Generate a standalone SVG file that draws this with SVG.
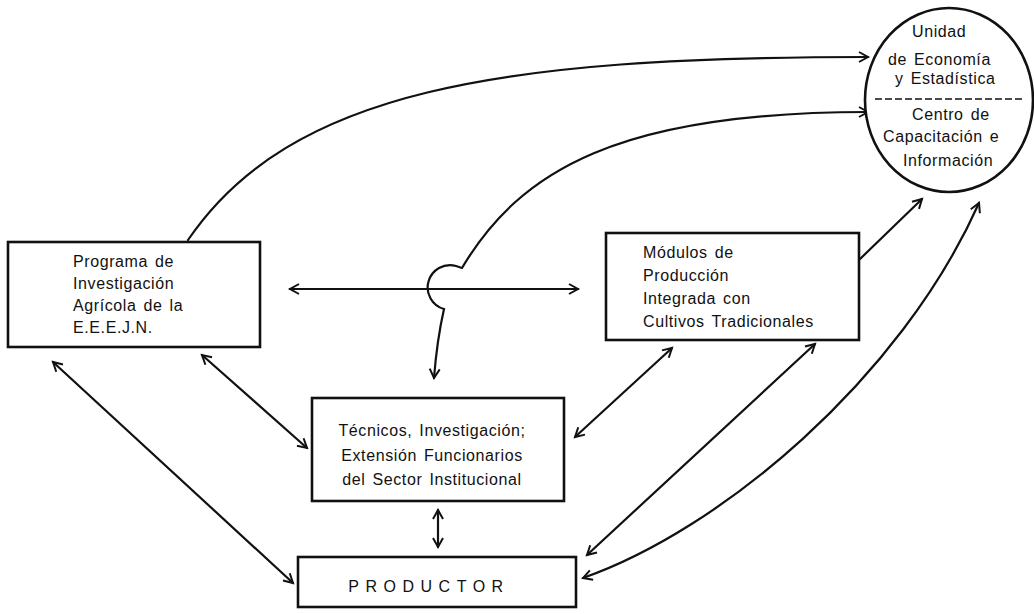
<svg xmlns="http://www.w3.org/2000/svg" width="1034" height="614" viewBox="0 0 1034 614">
  <style>
    .box { fill: #ffffff; stroke: #111; stroke-width: 2.6; }
    .lbl { font-family: "Liberation Sans", Arial, sans-serif; font-size: 16px; fill: #111; letter-spacing: 0.6px; word-spacing: 2px; }
    .conn { fill: none; stroke: #111; stroke-width: 2.2; stroke-linecap: round; }
  </style>
  <defs>
    <marker id="head" markerWidth="13" markerHeight="13" refX="10" refY="5.5" orient="auto-start-reverse" markerUnits="userSpaceOnUse" viewBox="0 0 13 11">
      <path d="M1,0.5 L10,5.5 L1,10.5" fill="none" stroke="#111" stroke-width="2"/>
    </marker>
  </defs>
  <rect width="1034" height="614" fill="#ffffff"/>

  <g id="connectors">
    <!-- Programa to Unidad de Economía -->
    <path class="conn" d="M188,240 C290,90 500,57 868,57" marker-end="url(#head)"/>
    <!-- Centro de Capacitación down to Técnicos, hopping over the horizontal link -->
    <path class="conn" d="M868,112 C620,112 520,170 462,268 L456,266 A21,21 0 0 0 444,309 Q437,340 434,378" marker-start="url(#head)" marker-end="url(#head)"/>
    <!-- Programa <-> Módulos -->
    <path class="conn" d="M290,289 L578,289" marker-start="url(#head)" marker-end="url(#head)"/>
    <!-- Módulos to circle -->
    <path class="conn" d="M860,259 L922,199" marker-end="url(#head)"/>
    <!-- Productor <-> circle -->
    <path class="conn" d="M583,578 C720,530 900,380 979,203" marker-start="url(#head)" marker-end="url(#head)"/>
    <!-- Módulos <-> Técnicos -->
    <path class="conn" d="M672,348 L575,437" marker-start="url(#head)" marker-end="url(#head)"/>
    <!-- Módulos <-> Productor -->
    <path class="conn" d="M815,344 L587,555" marker-start="url(#head)" marker-end="url(#head)"/>
    <!-- Programa <-> Técnicos -->
    <path class="conn" d="M202,355 L307,448" marker-start="url(#head)" marker-end="url(#head)"/>
    <!-- Programa <-> Productor -->
    <path class="conn" d="M53,362 L293,583" marker-start="url(#head)" marker-end="url(#head)"/>
    <!-- Técnicos <-> Productor -->
    <path class="conn" d="M438,510 L438,547" marker-start="url(#head)" marker-end="url(#head)"/>
  </g>

  <g id="unidad">
    <ellipse cx="949" cy="100" rx="84" ry="92" fill="#ffffff" stroke="#111" stroke-width="2.6"/>
    <line x1="875" y1="99" x2="1024" y2="99" stroke="#111" stroke-width="1.6" stroke-dasharray="7,3"/>
    <text class="lbl" x="912" y="37">Unidad</text>
    <text class="lbl" x="888" y="65">de Economía</text>
    <text class="lbl" x="895" y="84">y Estadística</text>
    <text class="lbl" x="912" y="120">Centro de</text>
    <text class="lbl" x="883" y="142">Capacitación e</text>
    <text class="lbl" x="903" y="166">Información</text>
  </g>

  <g id="programa">
    <rect class="box" x="8" y="242" width="252" height="105"/>
    <text class="lbl" x="73" y="267">Programa de</text>
    <text class="lbl" x="73" y="289">Investigación</text>
    <text class="lbl" x="73" y="311">Agrícola de la</text>
    <text class="lbl" x="73" y="333">E.E.E.J.N.</text>
  </g>

  <g id="modulos">
    <rect class="box" x="606" y="233" width="253" height="107"/>
    <text class="lbl" x="643" y="258">Módulos de</text>
    <text class="lbl" x="643" y="281">Producción</text>
    <text class="lbl" x="643" y="304">Integrada con</text>
    <text class="lbl" x="643" y="327">Cultivos Tradicionales</text>
  </g>

  <g id="tecnicos">
    <rect class="box" x="312" y="398" width="252" height="103"/>
    <text class="lbl" x="432" y="436" text-anchor="middle">Técnicos, Investigación;</text>
    <text class="lbl" x="432" y="461" text-anchor="middle">Extensión Funcionarios</text>
    <text class="lbl" x="432" y="485" text-anchor="middle">del Sector Institucional</text>
  </g>

  <g id="productor">
    <rect class="box" x="298" y="557" width="278" height="50"/>
    <text class="lbl" x="429" y="592" text-anchor="middle" style="letter-spacing:6.5px">PRODUCTOR</text>
  </g>
</svg>
